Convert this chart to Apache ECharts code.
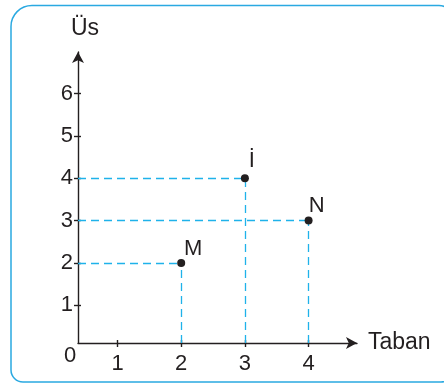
<!DOCTYPE html>
<html>
<head>
<meta charset="utf-8">
<script src="https://cdn.jsdelivr.net/npm/echarts@6/dist/echarts.min.js"></script>
<style>
html, body { margin: 0; padding: 0; background: #ffffff; }
#chart { width: 444px; height: 383px; }
</style>
</head>
<body>
<div id="chart"></div>
<script>
// data
const xTicks = [1, 2, 3, 4]
const yTicks = [1, 2, 3, 4, 5, 6]
const pointNames = ["M", "İ", "N"]
const pointX = [2, 3, 4]
const pointY = [2, 4, 3]
// visible axis ranges (origin is not at 0,0 in the drawing)
const xRange = [0.38, 4.76]
const yRange = [0.11, 6.98]

const ink = "#231f20"
const cyan = "#1fb2ea"
const font = "'Liberation Sans', Arial, sans-serif"
const labelOffsets = [[12, -14], [7, -17], [8, -15]]

let myChart = echarts.init(document.getElementById("chart"))

let guideLines = []
pointX.forEach((x, i) => {
	let y = pointY[i]
	guideLines.push([{ coord: [xRange[0], y] }, { coord: [x, y] }])
	guideLines.push([{ coord: [x, yRange[0]] }, { coord: [x, y] }])
})

let axisLine = { color: ink, width: 1.4 }

let option = {
	animation: false,
	grid: {
		left: 78,
		right: 87,
		top: 52,
		bottom: 40,
		outerBoundsMode: "none",
	},
	xAxis: [
		{
			type: "value",
			position: "bottom",
			min: xRange[0],
			max: xRange[1],
			axisLine: {
				show: true,
				onZero: false,
				lineStyle: axisLine,
				symbol: ["none", "arrow"],
				symbolSize: [9, 11],
			},
			axisTick: { show: true, customValues: xTicks, length: 4, lineStyle: axisLine },
			axisLabel: {
				customValues: xTicks,
				fontSize: 22,
				fontFamily: font,
				color: ink,
				margin: 10,
			},
			splitLine: { show: false },
			name: "Taban",
			nameLocation: "end",
			nameGap: 11,
			nameTextStyle: { fontSize: 23, fontFamily: font, color: ink, align: "left", verticalAlign: "middle" },
		},
		{
			type: "value",
			position: "bottom",
			min: xRange[0],
			max: xRange[1],
			axisLine: { show: false },
			axisTick: { show: true, inside: true, customValues: xTicks, length: 3, lineStyle: axisLine },
			axisLabel: { show: false },
			splitLine: { show: false },
		},
	],
	yAxis: [
		{
			type: "value",
			position: "left",
			min: yRange[0],
			max: yRange[1],
			axisLine: {
				show: true,
				onZero: false,
				lineStyle: axisLine,
				symbol: ["none", "arrow"],
				symbolSize: [9, 11],
			},
			axisTick: { show: true, customValues: yTicks, length: 4, lineStyle: axisLine },
			axisLabel: {
				customValues: yTicks,
				fontSize: 22,
				fontFamily: font,
				color: ink,
				margin: 5,
			},
			splitLine: { show: false },
			name: "Üs",
			nameLocation: "end",
			nameGap: 12,
			nameTextStyle: { fontSize: 23, fontFamily: font, color: ink, padding: [0, 0, 0, 14] },
		},
		{
			type: "value",
			position: "left",
			min: yRange[0],
			max: yRange[1],
			axisLine: { show: false },
			axisTick: { show: true, inside: true, customValues: yTicks, length: 3, lineStyle: axisLine },
			axisLabel: { show: false },
			splitLine: { show: false },
		},
	],
	graphic: [
		{
			type: "rect",
			shape: { x: 11, y: 5.5, width: 442, height: 376.5, r: [21, 14, 12, 12] },
			style: { fill: "none", stroke: "#2aa9e1", lineWidth: 1.5 },
			silent: true,
		},
		{
			type: "text",
			x: 70,
			y: 356,
			style: { text: "0", font: "22px " + font, fill: ink, align: "center", verticalAlign: "middle" },
		},
	],
	series: [
		{
			type: "scatter",
			xAxisIndex: 0,
			yAxisIndex: 0,
			symbolSize: 8,
			itemStyle: { color: ink, opacity: 1 },
			z: 5,
			data: pointX.map((x, i) => ({
				value: [x, pointY[i]],
				name: pointNames[i],
				label: { offset: labelOffsets[i] },
			})),
			label: {
				show: true,
				position: "inside",
				formatter: (p) => p.name,
				fontSize: 22,
				fontFamily: font,
				color: ink,
			},
			markLine: {
				silent: true,
				symbol: ["none", "none"],
				label: { show: false },
				lineStyle: { color: cyan, type: [8, 5], width: 1.3, opacity: 1 },
				data: guideLines,
			},
		},
	],
}

myChart.setOption(option)
</script>
</body>
</html>
